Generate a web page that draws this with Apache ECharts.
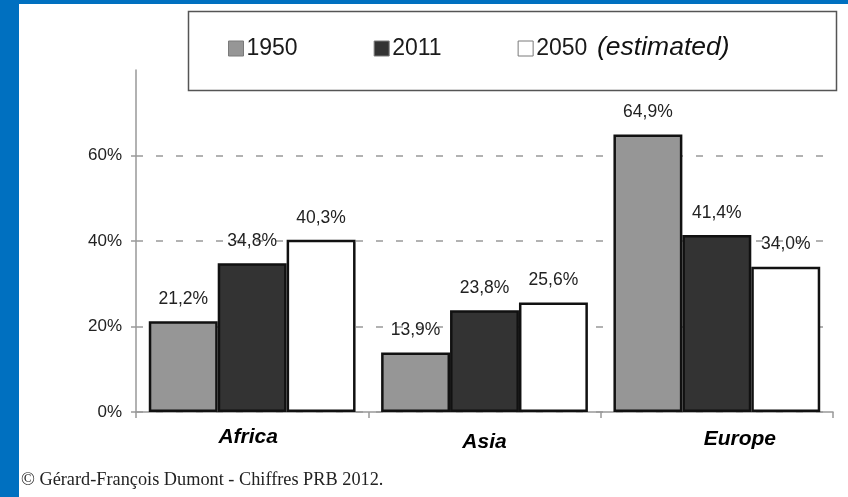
<!DOCTYPE html>
<html>
<head>
<meta charset="utf-8">
<script src="https://cdn.jsdelivr.net/npm/echarts@6/dist/echarts.min.js"></script>
<style>
  html, body { margin: 0; padding: 0; background: #ffffff; }
  #chart { width: 848px; height: 497px; }
</style>
</head>
<body>
<div id="chart"></div>
<script>
// Share of population, by region
const categories = ['Africa', 'Asia', 'Europe'];
const share1950 = [21.2, 13.9, 64.9];
const share2011 = [34.8, 23.8, 41.4];
const share2050 = [40.3, 25.6, 34.0];
const seriesNames = ['1950', '2011', '2050'];
const yTickValues = [0, 20, 40, 60];
const sourceNote = '\u00A9 G\u00E9rard-Fran\u00E7ois Dumont - Chiffres PRB 2012.';
const estimateNote = '(estimated)';

const SANS = "'Liberation Sans', Arial, sans-serif";
const SERIF = "'Liberation Serif', 'Times New Roman', serif";
const fills = ['#969696', '#333333', '#ffffff'];

const fmtPct = v => v.toFixed(1).replace('.', ',') + '%';

// per-category nudges of the axis labels
const labelPads = [[0, 8, 0, 0], [5, 0, 0, 0], [2, 0, 0, 46]];

const chart = echarts.init(document.getElementById('chart'), null, { renderer: 'canvas' });

const values = [share1950, share2011, share2050];

const series = seriesNames.map((name, i) => ({
  name: name,
  type: 'bar',
  data: values[i],
  barGap: '0%',
  barCategoryGap: '11%',
  itemStyle: { color: fills[i], borderColor: '#111111', borderWidth: 2.5 },
  label: {
    show: true,
    position: 'top',
    distance: 13,
    color: '#222222',
    fontFamily: SANS,
    fontSize: 17.5,
    formatter: p => fmtPct(p.value)
  },
  emphasis: { disabled: true },
  z: 3
}));

chart.setOption({
  backgroundColor: '#ffffff',
  animation: false,
  grid: { left: 136, right: 15, top: 70, bottom: 85, containLabel: false },
  legend: {
    data: seriesNames,
    left: 228,
    top: 37,
    padding: 0,
    orient: 'horizontal',
    itemWidth: 15,
    itemHeight: 15,
    itemGap: 76,
    icon: 'rect',
    itemStyle: { borderColor: '#7a7a7a', borderWidth: 1 },
    textStyle: { fontFamily: SANS, fontSize: 23, color: '#1a1a1a', padding: [0, 0, 0, -2] },
    selectedMode: false
  },
  xAxis: {
    type: 'category',
    data: categories.map((c, i) => ({
      value: c,
      textStyle: { padding: labelPads[i] }
    })),
    axisLine: { lineStyle: { color: '#999999', width: 1.5 } },
    axisTick: { show: true, length: 6, lineStyle: { color: '#999999', width: 1.5 } },
    axisLabel: {
      margin: 15,
      fontFamily: SANS,
      fontSize: 21,
      fontWeight: 'bold',
      fontStyle: 'italic',
      color: '#000000'
    }
  },
  yAxis: {
    type: 'value',
    min: 0,
    max: 80,
    interval: 20,
    axisLine: { show: true, lineStyle: { color: '#999999', width: 1.5 } },
    axisTick: { show: true, length: 5, customValues: yTickValues, lineStyle: { color: '#999999', width: 1.5 } },
    axisLabel: {
      customValues: yTickValues,
      margin: 14,
      fontFamily: SANS,
      fontSize: 17,
      color: '#222222',
      formatter: v => v + '%'
    },
    splitLine: {
      show: true,
      lineStyle: {
        color: ['#999999', '#999999', '#999999', '#999999', 'rgba(0,0,0,0)'],
        width: 1.5,
        type: [7, 13]
      }
    }
  },
  series: series,
  graphic: [
    // blue frame
    { type: 'rect', left: 0, top: 0, shape: { width: 19, height: 497 }, style: { fill: '#0070c0' }, silent: true, z: 10 },
    { type: 'rect', left: 0, top: 0, shape: { width: 848, height: 4 }, style: { fill: '#0070c0' }, silent: true, z: 10 },
    // legend box
    { type: 'rect', shape: { x: 188.5, y: 11.5, width: 648, height: 79 }, style: { fill: 'none', stroke: '#555555', lineWidth: 1.5 }, silent: true, z: 5 },
    // estimate note next to the 2050 legend item
    { type: 'text', x: 597, y: 48, style: { text: estimateNote, fontFamily: SANS, fontSize: 26.5, fontStyle: 'italic', fill: '#111111', verticalAlign: 'middle', align: 'left' }, silent: true, z: 5 },
    // source line
    { type: 'text', x: 21, y: 480, style: { text: sourceNote, fontFamily: SERIF, fontSize: 18.3, fill: '#222222', verticalAlign: 'middle', align: 'left' }, silent: true, z: 5 }
  ]
});
</script>
</body>
</html>
